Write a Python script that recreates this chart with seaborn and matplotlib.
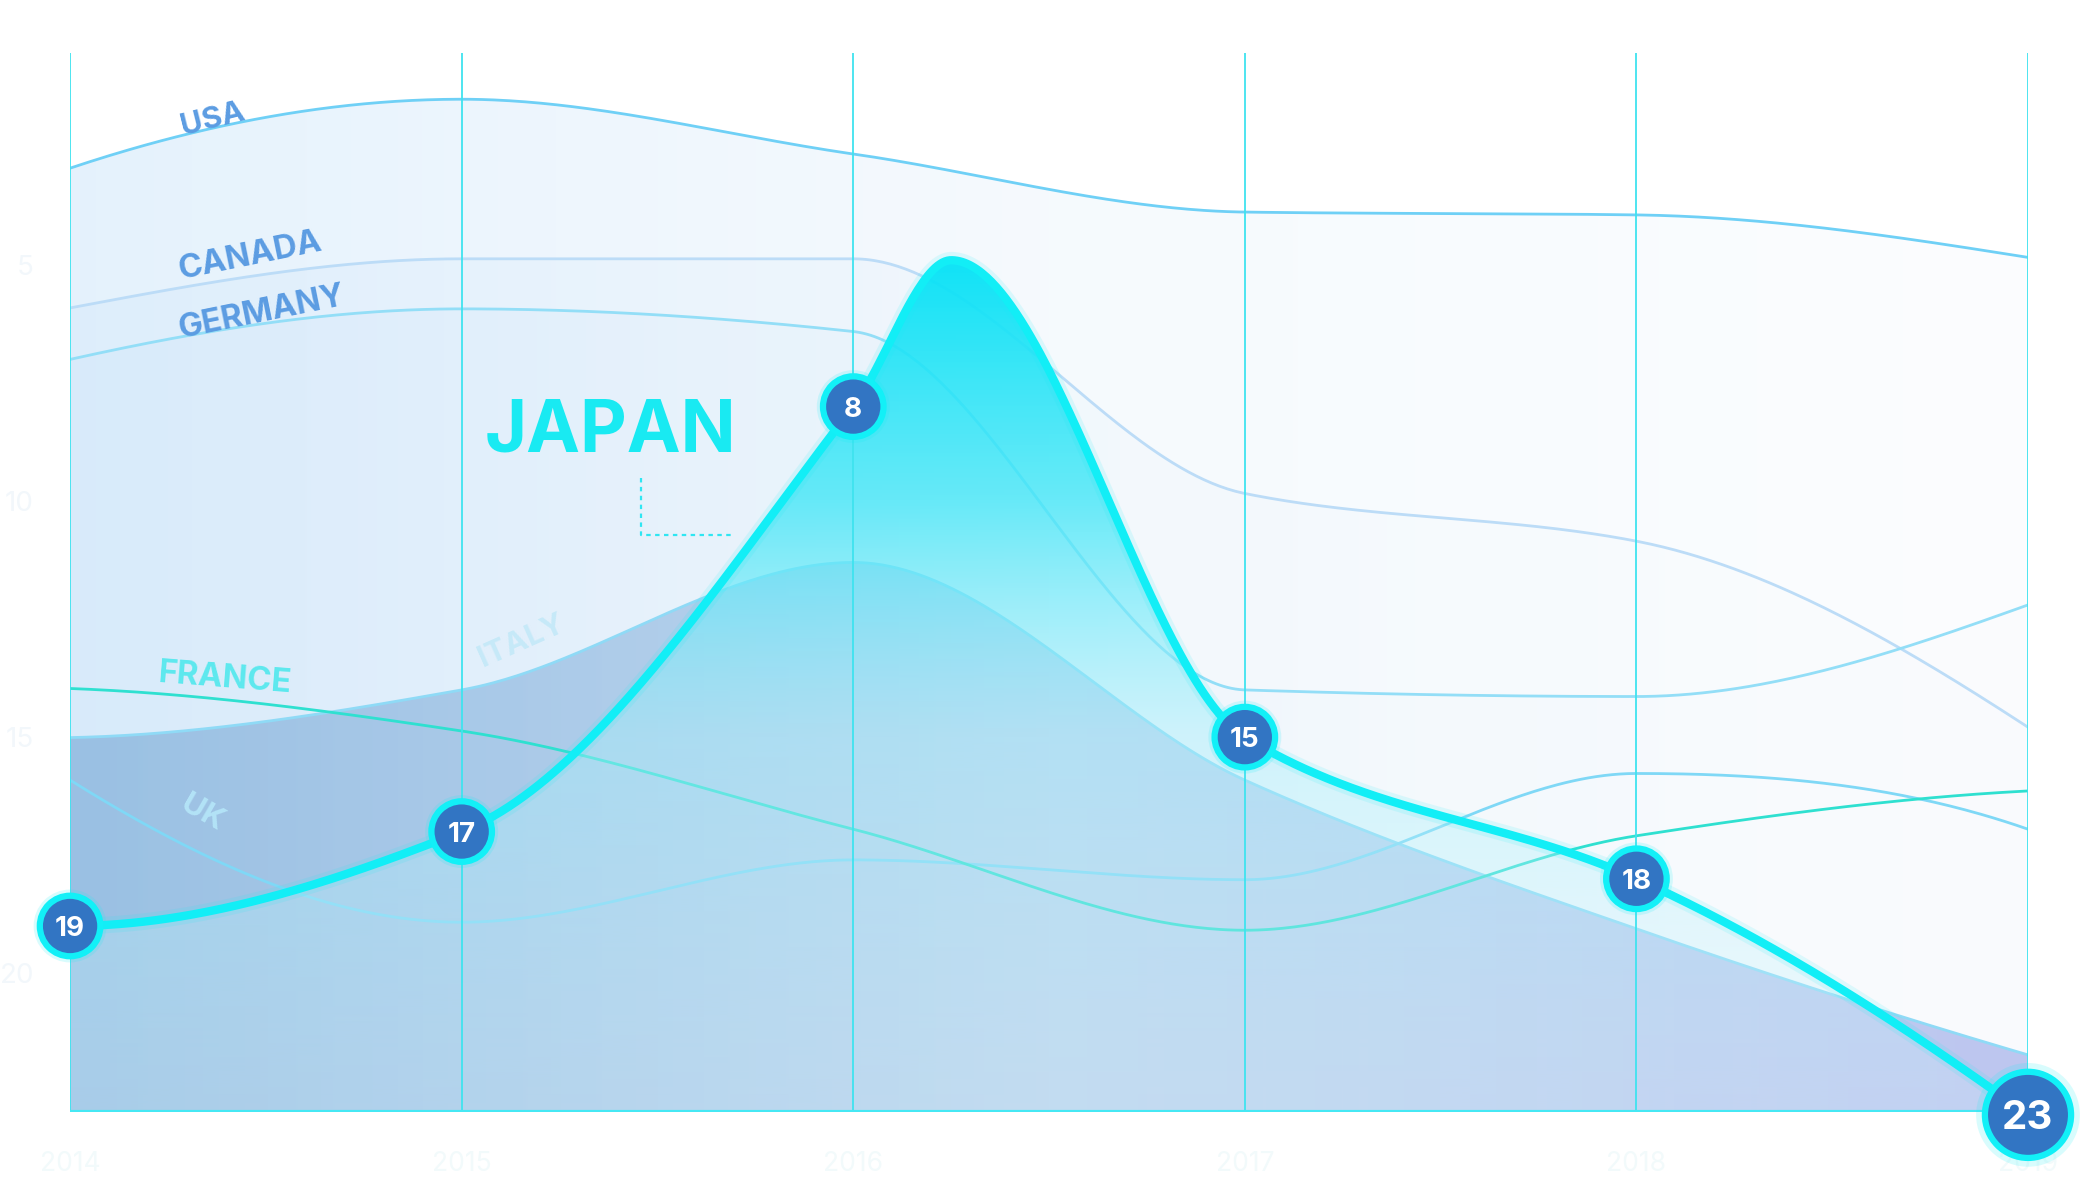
import numpy as np
import pandas as pd
import matplotlib
matplotlib.use("Agg")
import matplotlib.pyplot as plt
import seaborn as sns
from matplotlib.colors import to_rgb


# ----------------- Data -----------------
years = ["2014", "2015", "2016", "2017", "2018", "2019"]
year_pos = [0, 1, 2, 3, 4, 5]

usa = [2.95, 1.49, 2.65, 3.88, 3.94, 4.84]
canada = [5.91, 4.87, 4.87, 9.84, 10.85, 14.79]
germany = [7.00, 5.93, 6.41, 14.00, 14.14, 12.20]
italy = [15.01, 14.00, 11.30, 15.91, 19.06, 21.73]
uk = [15.91, 18.92, 17.60, 18.02, 15.77, 16.95]
france = [13.97, 14.87, 16.95, 19.09, 17.09, 16.14]

japan = [19, 17, 8, 15, 18, 23]
japan_peak_pos = 2.25   # the highlighted curve tops out just after the 3rd year
japan_peak = 4.9

y_ticks = [5, 10, 15, 20]

RANK_TOP, RANK_BOTTOM = 0.51, 22.94


# ----------------- Helpers -----------------
def smooth(x, y, n=500):
    """Monotone cubic (PCHIP) path through the points, only for drawing."""
    x = np.asarray(x, float)
    y = np.asarray(y, float)
    h = np.diff(x)
    d = np.diff(y) / h
    m = np.zeros_like(y)
    for k in range(1, len(x) - 1):
        if d[k - 1] * d[k] > 0:
            w1 = 2 * h[k] + h[k - 1]
            w2 = h[k] + 2 * h[k - 1]
            m[k] = (w1 + w2) / (w1 / d[k - 1] + w2 / d[k])

    def end_slope(h0, h1, d0, d1):
        s = ((2 * h0 + h1) * d0 - h0 * d1) / (h0 + h1)
        if np.sign(s) != np.sign(d0):
            s = 0.0
        elif np.sign(d0) != np.sign(d1) and abs(s) > abs(3 * d0):
            s = 3 * d0
        return s

    m[0] = end_slope(h[0], h[1], d[0], d[1])
    m[-1] = end_slope(h[-1], h[-2], d[-1], d[-2])

    xs = np.linspace(x[0], x[-1], n)
    idx = np.clip(np.searchsorted(x, xs, side="right") - 1, 0, len(x) - 2)
    t = (xs - x[idx]) / h[idx]
    h00 = 2 * t**3 - 3 * t**2 + 1
    h10 = t**3 - 2 * t**2 + t
    h01 = -2 * t**3 + 3 * t**2
    h11 = t**3 - t**2
    ys = h00 * y[idx] + h10 * h[idx] * m[idx] + h01 * y[idx + 1] + h11 * h[idx] * m[idx + 1]
    return xs, ys


def gradient_fill(ax, xs, top, colors, alphas, stops=None, vertical=False, zorder=1):
    """Fill under a curve down to the axis, coloured with a gradient."""
    poly = ax.fill_between(xs, top, RANK_BOTTOM, facecolor="none", edgecolor="none")
    n = 400
    if stops is None:
        stops = np.linspace(0, 1, len(colors))
    rgb = np.array([to_rgb(c) for c in colors])
    if vertical:
        t = np.linspace(RANK_TOP, RANK_BOTTOM, n)
    else:
        t = np.linspace(0, 1, n)
    img = np.zeros((n, 4))
    for ch in range(3):
        img[:, ch] = np.interp(t, stops, rgb[:, ch])
    img[:, 3] = np.interp(t, stops, alphas)
    img = img[:, None, :] if vertical else img[None, :, :]
    im = ax.imshow(img, extent=(0, 5, RANK_BOTTOM, RANK_TOP), origin="upper",
                   aspect="auto", zorder=zorder, interpolation="bilinear")
    im.set_clip_path(poly.get_paths()[0], transform=ax.transData)
    return im


# ----------------- Figure -----------------
sns.set_theme(style="white")
plt.rcParams["font.family"] = ["Inter", "DejaVu Sans"]

fig = plt.figure(figsize=(20.8, 11.82), dpi=100)
ax = fig.add_axes([0.0337, 0.0592, 0.9413, 0.896])
ax.set_facecolor("white")

# background fills (light, layered)
ux, uy = smooth(year_pos, usa)
cx, cy = smooth(year_pos, canada)
gx, gy = smooth(year_pos, germany)
ix, iy = smooth(year_pos, italy)
gradient_fill(ax, ux, uy, ["#cfe7fb", "#e4f1fc", "#f4f9fe"], [0.55, 0.35, 0.3], zorder=1)
gradient_fill(ax, cx, cy, ["#c9e3fa", "#f2f8fe"], [0.25, 0.03], zorder=1.1)
gradient_fill(ax, gx, gy, ["#c9e3fa", "#f2f8fe"], [0.25, 0.03], zorder=1.2)
gradient_fill(ax, ix, iy, ["#8fb9df", "#a9c8e9", "#b3bdee"], [0.85, 0.7, 0.85], zorder=1.3)

# country lines
line_colors = {
    "USA": "#6fd0f6",
    "CANADA": "#bcdcf7",
    "GERMANY": "#93def7",
    "ITALY": "#8fdaf6",
    "UK": "#7fd8f6",
    "FRANCE": "#2fe0d0",
}
series = {"USA": usa, "CANADA": canada, "GERMANY": germany,
          "ITALY": italy, "UK": uk, "FRANCE": france}
frames = []
for name, vals in series.items():
    xs, ys = smooth(year_pos, vals)
    frames.append(pd.DataFrame({"x": xs, "rank": ys, "country": name}))
lines_df = pd.concat(frames, ignore_index=True)

sns.lineplot(data=lines_df, x="x", y="rank", hue="country", palette=line_colors,
             estimator=None, sort=False, legend=False, linewidth=2.0, ax=ax, zorder=3)

# japan fill + line
jx_pts = year_pos[:3] + [japan_peak_pos] + year_pos[3:]
jy_pts = japan[:3] + [japan_peak] + japan[3:]
jx, jy = smooth(jx_pts, jy_pts, n=800)
gradient_fill(ax, jx, jy, ["#08e2f6", "#45e7f8", "#a6effb", "#d5f3fb"],
              [0.97, 0.8, 0.45, 0.25], stops=[4.9, 10, 15, 22.94],
              vertical=True, zorder=4)

# grid
for xp in year_pos:
    ax.axvline(xp, color="#3fe3ef", lw=1.3, zorder=5)
ax.axhline(RANK_BOTTOM, color="#46e8f4", lw=3, zorder=5)

ax.plot(jx, jy, color="#12eef6", lw=12, alpha=0.12, zorder=6, solid_capstyle="round")
ax.plot(jx, jy, color="#12eef6", lw=6, zorder=7, solid_capstyle="round")

# markers
sizes = [1900] * 5 + [3850]
ax.scatter(year_pos, japan, s=[s * 1.45 for s in sizes], color="#12eef6", alpha=0.16,
           zorder=8, clip_on=False, linewidths=0)
ax.scatter(year_pos, japan, s=sizes, color="#3275c3", edgecolors="#12f0f7",
           linewidths=4.5, zorder=9, clip_on=False)
for xp, r in zip(year_pos, japan):
    fs = 29 if r == japan[-1] else 20
    ax.text(xp, r, str(r), color="white", fontsize=fs, fontweight="bold",
            ha="center", va="center_baseline", zorder=10)

# country labels
label_style = dict(fontweight="bold", ha="center", va="center",
                   rotation_mode="anchor", zorder=6)
ax.text(0.363, 1.91, "USA", color="#5b9ce2", fontsize=22, rotation=14, **label_style)
ax.text(0.460, 4.82, "CANADA", color="#5b9ce2", fontsize=23.5, rotation=11.5, **label_style)
ax.text(0.490, 6.01, "GERMANY", color="#5b9ce2", fontsize=23.5, rotation=11.5, **label_style)
ax.text(0.396, 13.77, "FRANCE", color="#5de8ee", fontsize=23.5, rotation=-4.5, **label_style)
ax.text(1.152, 12.96, "ITALY", color="#c6e9f8", fontsize=22, rotation=24, **label_style)
ax.text(0.337, 16.61, "UK", color="#b3e3f7", fontsize=22, rotation=-30, **label_style)
ax.text(1.381, 8.54, "JAPAN", color="#19eaf2", fontsize=52, fontweight="bold",
        ha="center", va="center", zorder=6)
ax.plot([1.458, 1.458, 1.69], [9.51, 10.72, 10.72], color="#2fe6f2", lw=1.6,
        ls=(0, (2, 2)), zorder=6)

# axes styling (tick labels are almost white, as in the reference)
ax.set_xlim(0, 5)
ax.set_ylim(RANK_BOTTOM, RANK_TOP)
ax.set_xticks(year_pos)
ax.set_xticklabels(years, color="#f2fafb", fontsize=19)
ax.set_yticks(y_ticks)
ax.set_yticklabels([str(v) for v in y_ticks], color="#f2f7fb", fontsize=20)
ax.tick_params(axis="x", length=0, pad=28)
ax.tick_params(axis="y", length=0, pad=26)
ax.set_xlabel("")
ax.set_ylabel("")
for sp in ax.spines.values():
    sp.set_visible(False)

fig.savefig("out.png", dpi=100, facecolor="white")
